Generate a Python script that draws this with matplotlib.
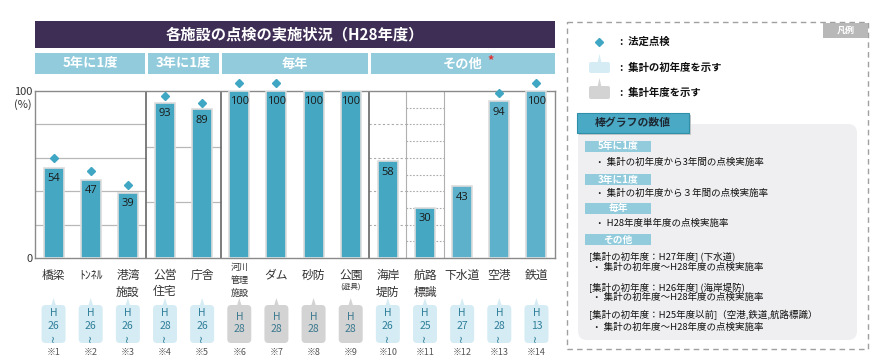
import matplotlib
matplotlib.use('Agg')
import matplotlib.pyplot as plt
from matplotlib import transforms
from matplotlib.patches import Rectangle, FancyBboxPatch, Polygon
from matplotlib.lines import Line2D

plt.rcParams['font.family'] = ['Noto Sans CJK JP', 'DejaVu Sans']

# data
categories = ['橋梁', 'ﾄﾝﾈﾙ', '港湾\n施設', '公営\n住宅', '庁舎', '河川\n管理\n施設', 'ダム',
              '砂防', '公園\n(遊具)', '海岸\n堤防', '航路\n標識', '下水道', '空港', '鉄道']
rates = [54, 47, 39, 93, 89, 100, 100, 100, 100, 58, 30, 43, 94, 100]
legal_marks = [60, 52, 44, 97, 93, 105, 105, None, None, None, None, None, 99, 105]
start_years = ['26', '26', '26', '28', '26', '28', '28', '28', '28', '26', '25', '27', '28', '13']
year_only = [False, False, False, False, False, True, True, True, True,
             False, False, False, False, False]
notes = ['※1', '※2', '※3', '※4', '※5', '※6', '※7', '※8', '※9',
         '※10', '※11', '※12', '※13', '※14']
group_names = ['5年に1度', '3年に1度', '毎年', 'その他']
group_sizes = [3, 2, 4, 5]

title = '各施設の点検の実施状況（H28年度）'
legend_items = ['法定点検', '集計の初年度を示す', '集計年度を示す']
panel_lines = [
    ('tag', '5年に1度'), ('bullet', '・ 集計の初年度から3年間の点検実施率'),
    ('tag', '3年に1度'), ('bullet', '・ 集計の初年度から３年間の点検実施率'),
    ('tag', '毎年'), ('bullet', '・ H28年度単年度の点検実施率'),
    ('tag', 'その他'),
    ('head', '[集計の初年度：H27年度] (下水道)'), ('bullet', '・ 集計の初年度～H28年度の点検実施率'),
    ('head', '[集計の初年度：H26年度] (海岸堤防)'), ('bullet', '・ 集計の初年度～H28年度の点検実施率'),
    ('head', '[集計の初年度：H25年度以前]（空港,鉄道,航路標識）'), ('bullet', '・ 集計の初年度～H28年度の点検実施率'),
]
panel_y = [146.5, 162, 179.5, 193, 208, 223, 239.5, 256, 267, 287, 297, 315, 327]

BAR = '#45A7C1'
BAR_LIGHT = '#5DB1CA'
HEAD = '#92CBDC'
bar_colors = [BAR] * 11 + [BAR_LIGHT] * 3

fig = plt.figure(figsize=(8.8, 3.6), dpi=100)
ax = fig.add_axes([35 / 880, 102 / 360, 520 / 880, 167 / 360])
# pixel coordinates measured from the top-left corner
pix = transforms.Affine2D().scale(0.01, -0.01).translate(0, 3.6) + fig.dpi_scale_trans

x = list(range(len(categories)))
ax.set_xlim(-0.5, len(categories) - 0.5)
ax.set_ylim(0, 100)

edges = [-0.5]
for s in group_sizes:
    edges.append(edges[-1] + s)

# group specific guide lines
ax.hlines([20, 40, 60, 80], edges[0], edges[1], colors='#b8b8b8', lw=0.9, zorder=1)
ax.hlines([100 / 3, 200 / 3], edges[1], edges[2], colors='#b8b8b8', lw=0.9, zorder=1)
ax.hlines([20, 40, 60, 80], 8.5, 9.5, colors='#aaaaaa', lw=0.8, linestyles=(0, (2, 2)), zorder=1)
ax.hlines(range(10, 100, 10), 9.5, 10.5, colors='#aaaaaa', lw=0.8, linestyles=(0, (1.5, 1.5)), zorder=1)
for e in edges[1:-1]:
    ax.axvline(e, color='#666666', lw=1.2, zorder=2)
for e in [9.5, 10.5]:
    ax.axvline(e, color='#b0b0b0', lw=0.8, zorder=2)

ax.bar(x, rates, width=0.54, color=bar_colors, edgecolor='#dddddd', linewidth=1.2, zorder=3)
for i, v in enumerate(rates):
    ax.annotate(str(v), (i, v), xytext=(0, -11), textcoords='offset pixels',
                ha='center', va='center', fontsize=8, color='#1a1a1a',
                family=['Open Sans', 'DejaVu Sans'], zorder=4)
for i, m in enumerate(legal_marks):
    if m is not None:
        ax.plot(i, m, marker='D', ms=4.5, color='#3FA6C3', mec='#3FA6C3',
                clip_on=False, zorder=5)

for sp in ax.spines.values():
    sp.set_color('#8a8a8a')
    sp.set_linewidth(1)
ax.set_xticks([])
ax.set_yticks([0, 100])
ax.set_yticklabels(['0', '100'])
ax.tick_params(axis='y', length=0, pad=2, labelsize=8, colors='#333333')
ax.annotate('(%)', (-0.5, 100), xytext=(-3, -14), textcoords='offset pixels',
            ha='right', va='center', fontsize=8, color='#333333', annotation_clip=False)


def px_x(v):
    return ax.transData.transform((v, 0))[0]


left, right = px_x(edges[0]), px_x(edges[-1])

# title banner
fig.add_artist(Rectangle((left, 21), right - left, 27, transform=pix,
                         facecolor='#3E2D54', edgecolor='none'))
fig.text((left + right) / 2, 34.5, title, transform=pix, ha='center', va='center',
         color='white', fontsize=11, fontweight='bold')

# group header bars
for k, name in enumerate(group_names):
    g0 = px_x(edges[k]) + (0 if k == 0 else 1.5)
    g1 = px_x(edges[k + 1]) - (0 if k == len(group_names) - 1 else 1.5)
    fig.add_artist(Rectangle((g0, 53), g1 - g0, 21, transform=pix,
                             facecolor=HEAD, edgecolor='none'))
    fig.text((g0 + g1) / 2, 63.5, name, transform=pix, ha='center', va='center',
             color='white', fontsize=9.5, fontweight='bold')
    if name == 'その他':
        fig.text((g0 + g1) / 2 + 28, 61, '*', transform=pix, ha='center', va='center',
                 color='#e03030', fontsize=9, fontweight='bold')

# category labels, year call-outs and notes
for i, name in enumerate(categories):
    cx = px_x(i)
    lines = name.split('\n')
    if len(lines) == 3:
        for j, ln in enumerate(lines):
            fig.text(cx, 267 + 13 * j, ln, transform=pix, ha='center', va='center',
                     fontsize=6.5, color='#333333')
    else:
        for j, ln in enumerate(lines):
            small = ln.startswith('(')
            fig.text(cx, 287 if small else 275 + 17 * j, ln, transform=pix,
                     ha='center', va='center', fontsize=5.5 if small else 8.5,
                     color='#333333')

    fc = '#D3D3D3' if year_only[i] else '#D5ECF4'
    tc = '#3D7A90' if year_only[i] else '#2F7F99'
    fig.add_artist(FancyBboxPatch((cx - 12, 305), 24, 38, transform=pix,
                                  boxstyle='round,pad=0,rounding_size=4',
                                  facecolor=fc, edgecolor='none'))
    fig.add_artist(Polygon([(cx - 2.5, 306), (cx, 298), (cx + 2.5, 306)], closed=True,
                           transform=pix, facecolor=fc, edgecolor='none'))
    if year_only[i]:
        fig.text(cx, 317, 'H', transform=pix, ha='center', va='center', fontsize=7.5, color=tc)
        fig.text(cx, 329, start_years[i], transform=pix, ha='center', va='center',
                 fontsize=7.5, color=tc)
    else:
        fig.text(cx, 313, 'H', transform=pix, ha='center', va='center', fontsize=7.5, color=tc)
        fig.text(cx, 326, start_years[i], transform=pix, ha='center', va='center',
                 fontsize=7.5, color=tc)
        fig.text(cx, 338, '~', transform=pix, ha='center', va='center', rotation=90,
                 fontsize=7, color=tc, family='DejaVu Sans')
    fig.text(cx, 352, notes[i], transform=pix, ha='center', va='center',
             fontsize=6.5, color='#555555')

# legend panel
fig.add_artist(Rectangle((567, 22), 301, 327, transform=pix, fill=False,
                         edgecolor='#a0a0a0', lw=1, ls=(0, (4, 3))))
fig.add_artist(Rectangle((823, 23), 45, 15, transform=pix, facecolor='#B8B8B8',
                         edgecolor='none'))
fig.text(845.5, 30.5, '凡例', transform=pix, ha='center', va='center', color='white',
         fontsize=6.5, fontweight='bold', style='italic')

fig.add_artist(Line2D([599], [42], transform=pix, marker='D', ms=4.5,
                      color='#3FA6C3', ls='none'))
for (y0, y1), fc in [((62, 73), '#D5ECF4'), ((86, 99), '#D3D3D3')]:
    fig.add_artist(FancyBboxPatch((589, y0), 21, y1 - y0, transform=pix,
                                  boxstyle='round,pad=0,rounding_size=2',
                                  facecolor=fc, edgecolor='none'))
    fig.add_artist(Polygon([(597.5, y0 + 1), (599.5, y0 - 8), (601.5, y0 + 1)], closed=True,
                           transform=pix, facecolor=fc, edgecolor='none'))
for y, s in zip([42, 68, 93], legend_items):
    fig.text(620, y, ':  ' + s, transform=pix, ha='left', va='center', fontsize=7.5,
             fontweight='bold', color='#111111')

fig.add_artist(FancyBboxPatch((578, 124), 279, 216, transform=pix,
                              boxstyle='round,pad=0,rounding_size=9',
                              facecolor='#EFEFF1', edgecolor='none'))
fig.add_artist(Rectangle((579, 115), 112, 20, transform=pix, facecolor='#c8c8c8',
                         edgecolor='none'))
fig.add_artist(Rectangle((577, 113), 112, 20, transform=pix, facecolor='#4AAAC5',
                         edgecolor='#2F8FA8', lw=0.8))
fig.text(633, 123, '棒グラフの数値', transform=pix, ha='center', va='center',
         fontsize=7.8, fontweight='bold', color='#1E2A35')

for (kind, s), y in zip(panel_lines, panel_y):
    if kind == 'tag':
        fig.add_artist(Rectangle((585, y - 5.5), 66, 11, transform=pix, facecolor=HEAD,
                                 edgecolor='none'))
        fig.text(618, y, s, transform=pix, ha='center', va='center', fontsize=7,
                 fontweight='bold', color='white')
    elif kind == 'bullet':
        fig.text(592 if y > 250 else 595, y, s, transform=pix, ha='left', va='center',
                 fontsize=6.8, color='#111111')
    else:
        fig.text(589, y, s, transform=pix, ha='left', va='center', fontsize=6.8,
                 color='#111111')

fig.savefig('out.png', dpi=100)
